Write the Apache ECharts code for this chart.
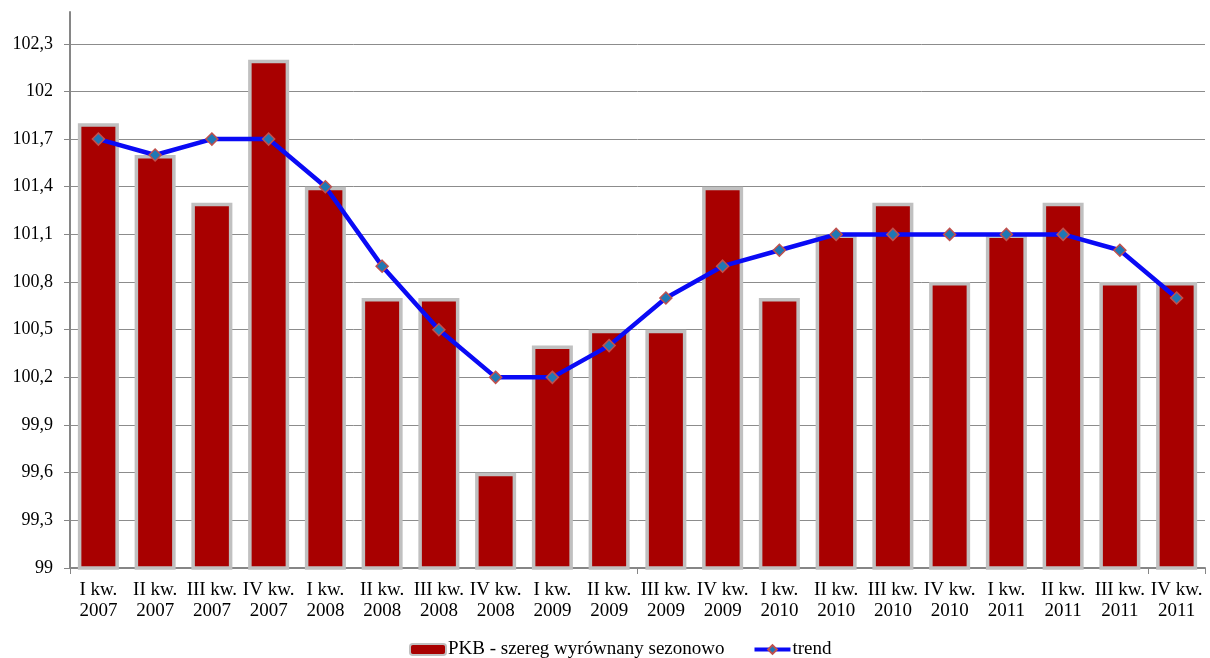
<!DOCTYPE html>
<html>
<head>
<meta charset="utf-8">
<script src="https://cdn.jsdelivr.net/npm/echarts@6/dist/echarts.min.js"></script>
<style>
html, body { margin: 0; padding: 0; background: #fff; }
#chart { width: 1210px; height: 658px; }
</style>
</head>
<body>
<div id="chart"></div>
<script>
var quarters = ['I kw.\n2007', 'II kw.\n2007', 'III kw.\n2007', 'IV kw.\n2007',
    'I kw.\n2008', 'II kw.\n2008', 'III kw.\n2008', 'IV kw.\n2008',
    'I kw.\n2009', 'II kw.\n2009', 'III kw.\n2009', 'IV kw.\n2009',
    'I kw.\n2010', 'II kw.\n2010', 'III kw.\n2010', 'IV kw.\n2010',
    'I kw.\n2011', 'II kw.\n2011', 'III kw.\n2011', 'IV kw.\n2011'];
var pkb = [101.8, 101.6, 101.3, 102.2, 101.4, 100.7, 100.7, 99.6, 100.4, 100.5,
    100.5, 101.4, 100.7, 101.1, 101.3, 100.8, 101.1, 101.3, 100.8, 100.8];
var trend = [101.7, 101.6, 101.7, 101.7, 101.4, 100.9, 100.5, 100.2, 100.2, 100.4,
    100.7, 100.9, 101.0, 101.1, 101.1, 101.1, 101.1, 101.1, 101.0, 100.7];
var yMin = 99, yMax = 102.5, yStep = 0.3;

var chart = echarts.init(document.getElementById('chart'));
var font = '"Liberation Serif", "Times New Roman", serif';
var option = {
    animation: false,
    textStyle: { fontFamily: font },
    grid: { left: 70, right: 5, top: 12, bottom: 90 },
    legend: {
        bottom: -6,
        left: 404,
        itemGap: 28,
        itemWidth: 36,
        itemHeight: 11,
        textStyle: { fontFamily: font, fontSize: 19, color: '#000', padding: [0, 0, 0, -3] },
        data: [
            { name: 'PKB - szereg wyrównany sezonowo' },
            { name: 'trend', lineStyle: { width: 4, color: '#0a0af5' } }
        ]
    },
    xAxis: {
        type: 'category',
        data: quarters,
        axisLine: { lineStyle: { color: '#868686', width: 2 } },
        axisTick: { show: true, interval: 9, length: 6, lineStyle: { color: '#868686' } },
        axisLabel: {
            interval: 0,
            color: '#000',
            fontFamily: font,
            fontSize: 19,
            lineHeight: 21,
            margin: 12
        }
    },
    yAxis: {
        type: 'value',
        min: yMin,
        max: yMax,
        interval: yStep,
        axisLine: { show: true, lineStyle: { color: '#868686', width: 2 } },
        axisTick: { show: true, length: 6, lineStyle: { color: '#868686' } },
        axisLabel: {
            color: '#000',
            fontFamily: font,
            fontSize: 18,
            margin: 17,
            showMaxLabel: false,
            formatter: function (v) {
                return String(Math.round(v * 10) / 10).replace('.', ',');
            }
        },
        splitLine: { show: true, showMaxLine: false, lineStyle: { color: '#8c8c8c', width: 1 } }
    },
    series: [
        {
            name: 'PKB - szereg wyrównany sezonowo',
            type: 'bar',
            data: pkb,
            barWidth: 41,
            itemStyle: { color: '#a80000', borderColor: '#c0c0c0', borderWidth: 3.5 }
        },
        {
            name: 'trend',
            type: 'line',
            data: trend,
            symbol: 'diamond',
            symbolSize: 12,
            lineStyle: { color: '#0a0af5', width: 4.5 },
            itemStyle: { color: '#1f78b4', borderColor: '#c0504d', borderWidth: 1.5 },
            z: 5
        }
    ]
};
chart.setOption(option);
</script>
</body>
</html>
